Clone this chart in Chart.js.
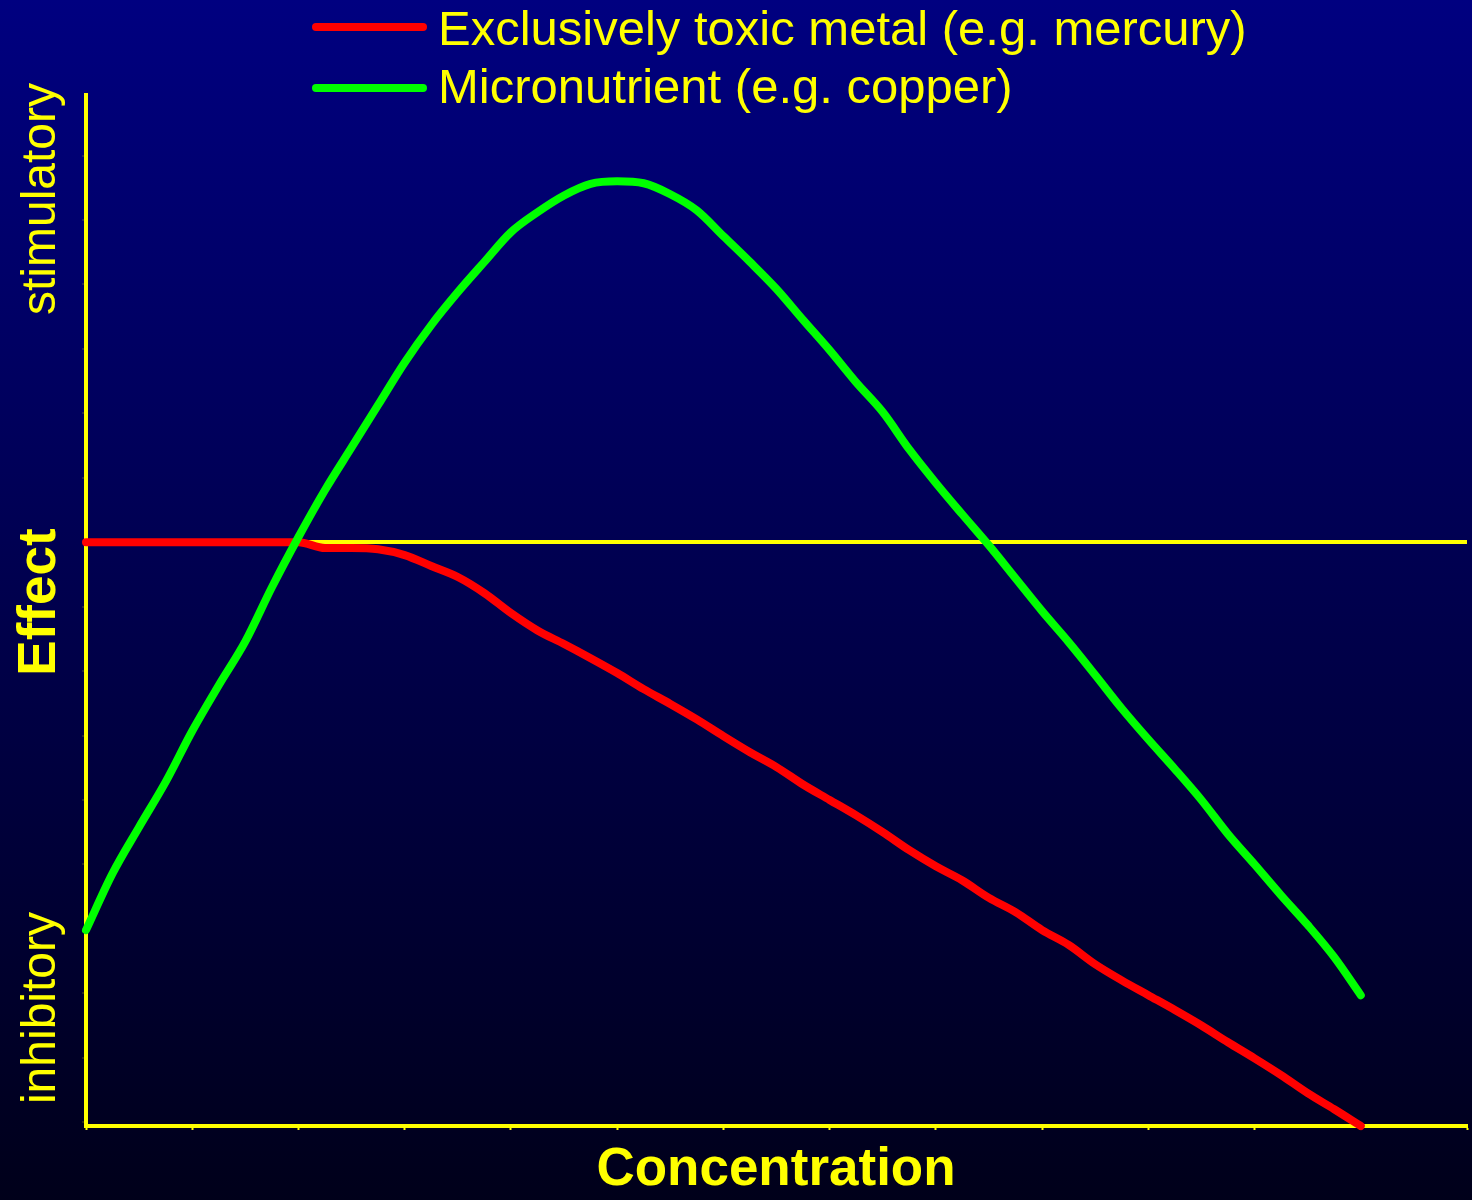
<!DOCTYPE html>
<html>
<head>
<meta charset="utf-8">
<script src="https://cdn.jsdelivr.net/npm/chart.js@4.4.1/dist/chart.umd.min.js"></script>
<style>
  html, body { margin: 0; padding: 0; }
  body {
    width: 1472px;
    height: 1200px;
    overflow: hidden;
    background: linear-gradient(to bottom, #000080 0%, #00001a 100%);
  }
</style>
</head>
<body>
<canvas id="myChart" width="1472" height="1200"></canvas>
<script>
// concentration (x), one point every quarter tick
let concentration = [0, 0.25, 0.5, 0.75, 1, 1.25, 1.5, 1.75, 2, 2.25, 2.5, 2.75, 3, 3.25, 3.5, 3.75,
    4, 4.25, 4.5, 4.75, 5, 5.25, 5.5, 5.75, 6, 6.25, 6.5, 6.75, 7, 7.25, 7.5, 7.75,
    8, 8.25, 8.5, 8.75, 9, 9.25, 9.5, 9.75, 10, 10.25, 10.5, 10.75, 11, 11.25, 11.5, 11.75, 12];

// effect, 0 = no effect line
let mercury = [0, 0, 0, 0, 0, 0, 0, 0, 0, -0.09, -0.09, -0.11, -0.20, -0.37, -0.54, -0.79,
    -1.10, -1.37, -1.58, -1.80, -2.03, -2.28, -2.51, -2.75, -3.01, -3.26, -3.49, -3.76, -4.00, -4.24, -4.50, -4.78,
    -5.03, -5.25, -5.52, -5.74, -6.02, -6.25, -6.55, -6.80, -7.03, -7.26, -7.50, -7.76, -8.01, -8.27, -8.55, -8.80, -9.06];

let copper = [-6.02, -5.14, -4.42, -3.72, -2.93, -2.22, -1.54, -0.70, 0.08, 0.81, 1.47, 2.13, 2.79, 3.37, 3.88, 4.35,
    4.81, 5.12, 5.38, 5.56, 5.60, 5.57, 5.40, 5.15, 4.75, 4.35, 3.93, 3.45, 2.98, 2.48, 2.02, 1.44,
    0.92, 0.43, -0.05, -0.56, -1.07, -1.55, -2.06, -2.58, -3.06, -3.52, -4.00, -4.53, -5.00, -5.48, -5.94, -6.44, -7.03];

// tick marks (no labels shown)
let xTicks = [0, 1, 2, 3, 4, 5, 6, 7, 8, 9, 10, 11, 12, 13];
let yTicks = [-9, -8, -7, -6, -5, -4, -3, -2, -1, 0, 1, 2, 3, 4, 5, 6];

let seriesLabels = ['Exclusively toxic metal (e.g. mercury)', 'Micronutrient (e.g. copper)'];
let xTitle = 'Concentration';
let yTitle = 'Effect';
let yTop = 'stimulatory';
let yBottom = 'inhibitory';

const YELLOW = '#ffff00';
const FONT = '"Liberation Sans", Arial, sans-serif';

function puntos(valores) {
    return valores.map((v, i) => ({ x: concentration[i], y: v }));
}

// legend and axis texts drawn by hand
const textos = {
    id: 'textos',
    afterDraw(chart) {
        const c = chart.ctx;
        c.save();
        chart.data.datasets.forEach((ds, i) => {
            const ly = i == 0 ? 27 : 88;
            c.strokeStyle = ds.borderColor;
            c.lineWidth = 8;
            c.lineCap = 'round';
            c.beginPath();
            c.moveTo(316, ly);
            c.lineTo(423, ly);
            c.stroke();
            c.fillStyle = YELLOW;
            c.font = '49px ' + FONT;
            c.textAlign = 'left';
            c.textBaseline = 'alphabetic';
            c.fillText(ds.label, 438, i == 0 ? 45 : 103);
        });

        c.fillStyle = YELLOW;
        c.textAlign = 'center';
        c.textBaseline = 'alphabetic';
        c.font = 'bold 53px ' + FONT;
        c.fillText(xTitle, 776, 1185);

        const vertical = (txt, cy, font) => {
            c.save();
            c.translate(55, cy);
            c.rotate(-Math.PI / 2);
            c.font = font;
            c.fillText(txt, 0, 0);
            c.restore();
        };
        vertical(yTop, 199, '48px ' + FONT);
        vertical(yTitle, 602, 'bold 53px ' + FONT);
        vertical(yBottom, 1008, '48px ' + FONT);
        c.restore();
    }
};

var ctx = document.getElementById('myChart').getContext('2d');
var chart = new Chart(ctx, {
    type: 'line',
    data: {
        datasets: [{
            label: seriesLabels[0],
            borderColor: '#ff0000',
            borderWidth: 8,
            data: puntos(mercury),
            order: 1
        }, {
            label: seriesLabels[1],
            borderColor: '#00ff00',
            borderWidth: 8,
            data: puntos(copper),
            order: 0
        }]
    },
    options: {
        responsive: false,
        animation: false,
        devicePixelRatio: 1,
        layout: { padding: { left: 82, top: 95, right: 5, bottom: 70 } },
        elements: {
            point: { radius: 0 },
            line: { cubicInterpolationMode: 'monotone', borderCapStyle: 'round', borderJoinStyle: 'round' }
        },
        datasets: { line: { clip: false } },
        plugins: {
            legend: { display: false },
            title: { display: false },
            tooltip: { enabled: false }
        },
        scales: {
            x: {
                type: 'linear',
                min: 0,
                max: 13,
                ticks: { display: false },
                afterBuildTicks: axis => { axis.ticks = xTicks.map(v => ({ value: v })); },
                grid: { drawOnChartArea: false, drawTicks: true, tickLength: 4, tickColor: YELLOW, tickWidth: 2 },
                border: { display: true, color: YELLOW, width: 4 }
            },
            y: {
                type: 'linear',
                min: -9.06,
                max: 6.94,
                ticks: { display: false },
                afterBuildTicks: axis => { axis.ticks = yTicks.map(v => ({ value: v })); },
                grid: {
                    color: c => (c.tick && c.tick.value === 0) ? YELLOW : 'rgba(0,0,0,0)',
                    lineWidth: c => (c.tick && c.tick.value === 0) ? 4 : 0,
                    drawTicks: true,
                    tickLength: 4,
                    tickColor: 'rgba(255,255,0,0.3)',
                    tickWidth: 1
                },
                border: { display: true, color: YELLOW, width: 4 }
            }
        }
    },
    plugins: [textos]
});
</script>
</body>
</html>
